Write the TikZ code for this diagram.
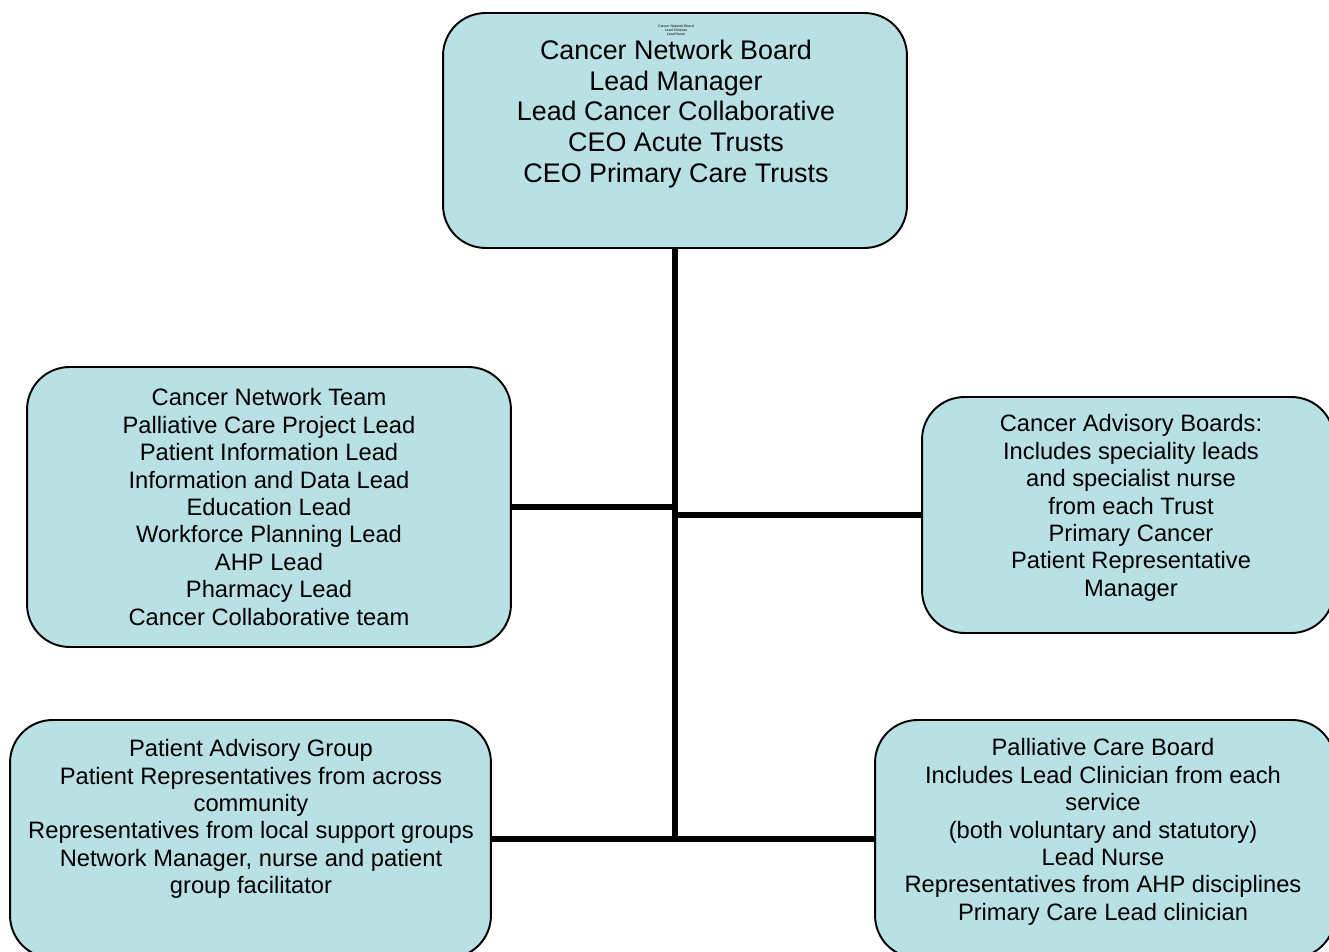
\documentclass[tikz,border=0pt]{standalone}
\usepackage{fontspec}
\setmainfont{Liberation Sans}
\usetikzlibrary{positioning}

\definecolor{boxfill}{RGB}{185,224,226}

\tikzset{
  orgbox/.style={draw, line width=1.1pt, fill=boxfill, rounded corners=0.85cm, inner sep=0pt},
  orgtext/.style={align=center, font=\fontsize{13.5}{15.6}\selectfont},
  link/.style={line width=3.4pt}
}

\begin{document}
\begin{tikzpicture}[x=0.02cm, y=-0.02cm]
  \useasboundingbox (0,0) rectangle (1329,952);
  % the boxes, sized from the layout in pixels
  \node[orgbox, minimum width=9.28cm, minimum height=4.70cm] (board) at (675,130.5) {};
  \node[orgbox, minimum width=9.68cm, minimum height=5.60cm] (team) at (269,507) {};
  \node[orgbox, minimum width=8.24cm, minimum height=4.72cm] (advisory) at (1128,515) {};
  \node[orgbox, minimum width=9.62cm, minimum height=4.76cm] (patient) at (250.5,839) {};
  \node[orgbox, minimum width=9.20cm, minimum height=4.76cm] (palliative) at (1105,839) {};

  % texts
  \node[align=center, font=\fontsize{2}{2.4}\selectfont] (boardsmall) at (676,30) {Cancer Network Board\\Lead Clinician\\Lead Nurse};
  \node[orgtext, font=\fontsize{15.3}{17.6}\selectfont] (boardtext) at (676,114)
    {Cancer Network Board\\Lead Manager\\Lead Cancer Collaborative\\CEO Acute Trusts\\CEO Primary Care Trusts};
  \node[orgtext] (teamtext) at (269,507)
    {Cancer Network Team\\Palliative Care Project Lead\\Patient Information Lead\\Information and Data Lead\\Education Lead\\Workforce Planning Lead\\AHP Lead\\Pharmacy Lead\\Cancer Collaborative team};
  \node[orgtext] (advisorytext) at (1131,508)
    {Cancer Advisory Boards:\\Includes speciality leads\\and specialist nurse\\from each Trust\\Primary Cancer\\Patient Representative\\Manager};
  \node[orgtext] (patienttext) at (251,819)
    {Patient Advisory Group\\Patient Representatives from across\\community\\Representatives from local support groups\\Network Manager, nurse and patient\\group facilitator};
  \node[orgtext] (palliativetext) at (1103,832)
    {Palliative Care Board\\Includes Lead Clinician from each\\service\\(both voluntary and statutory)\\Lead Nurse\\Representatives from AHP disciplines\\Primary Care Lead clinician};

  % connectors
  \coordinate (spine) at (board.south |- palliative.west);
  \draw[link] (board.south) -- (spine);
  \draw[link] (team.east) -- (team.east -| board.south);
  \draw[link] (advisory.west) -- (advisory.west -| board.south);
  \draw[link] (patient.east) -- (palliative.west);
\end{tikzpicture}
\end{document}
